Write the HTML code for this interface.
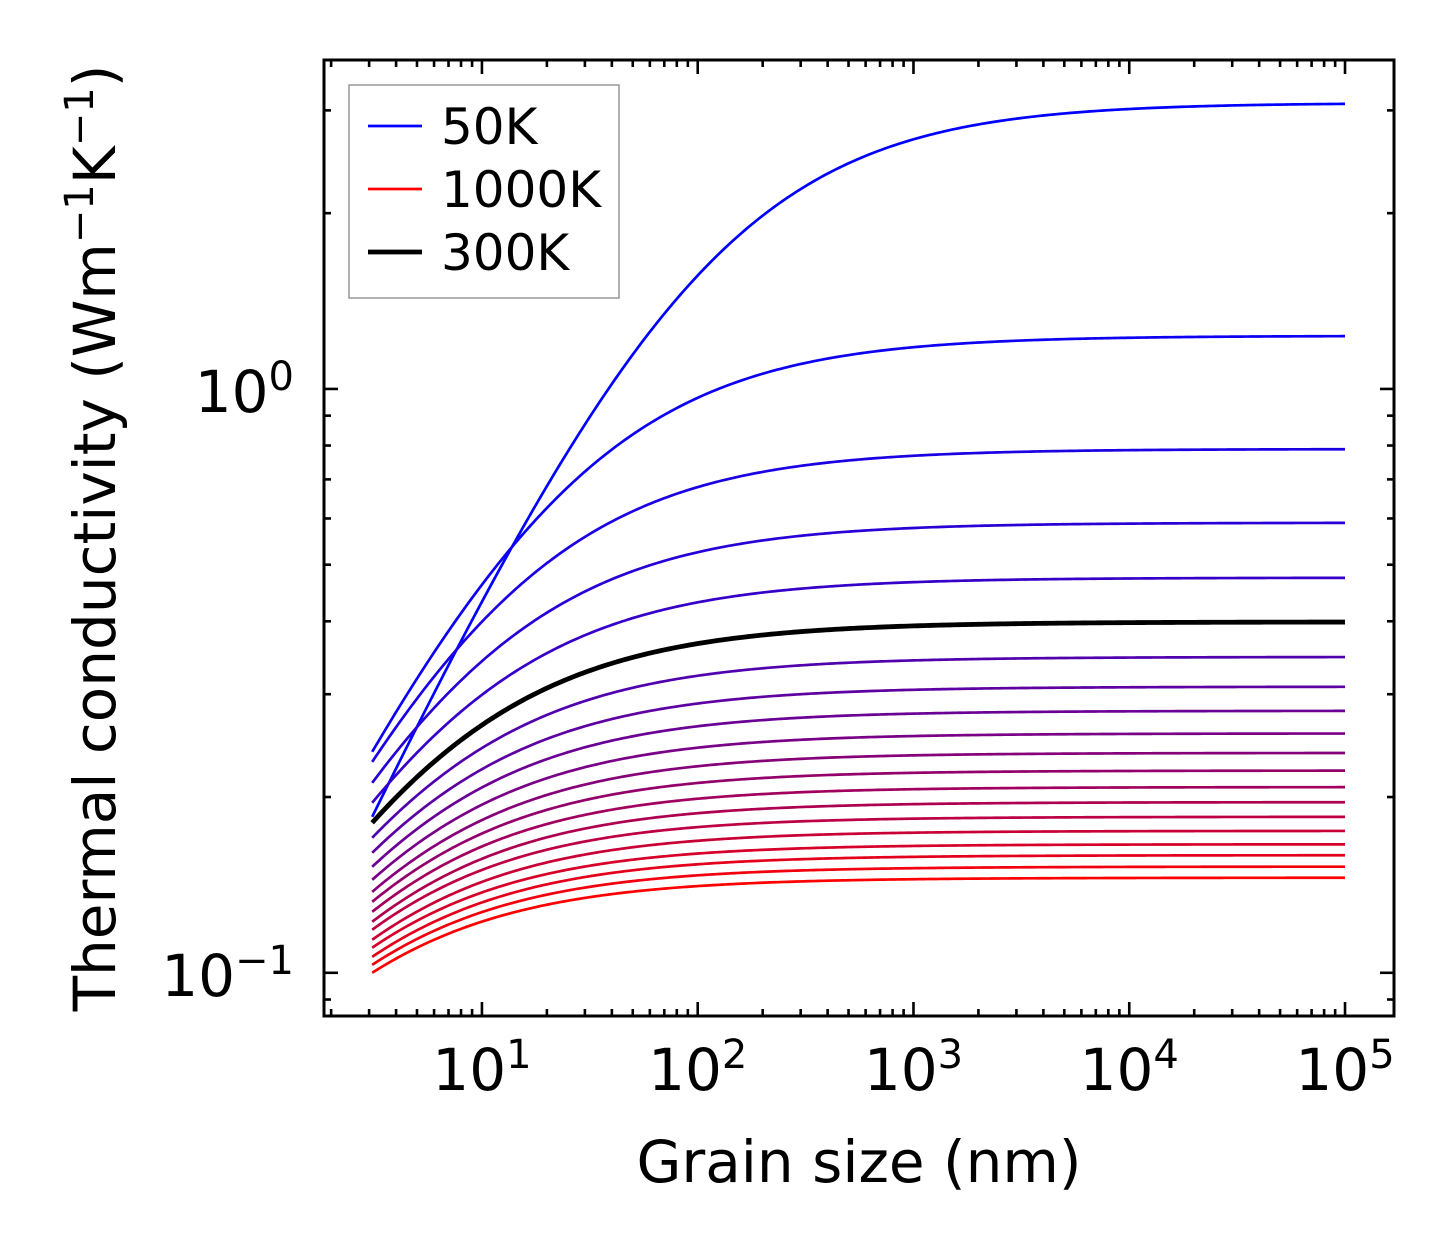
<!DOCTYPE html>
<html><head><meta charset="utf-8"><style>
html,body{margin:0;padding:0;background:#fff;}
svg text{font-family:"DejaVu Sans","Liberation Sans",sans-serif;fill:#000;}
</style></head><body>
<svg id="chart" width="1454" height="1254" xmlns="http://www.w3.org/2000/svg">
<g id="plot"></g>
</svg>
<script>
const temps = [50,100,150,200,250,300,350,400,450,500,550,600,650,700,750,800,850,900,950,1000];
const kBulk = [3.09,1.233,0.789,0.590,0.475,0.399,0.3475,0.309,0.281,0.257,0.238,0.222,0.208,0.196,0.185,0.175,0.166,0.159,0.152,0.1455];
const kSmall = [0.185,0.239,0.2298,0.2115,0.1955,0.1807,0.1703,0.1605,0.1519,0.1443,0.1376,0.1323,0.1272,0.1223,0.1185,0.1139,0.1104,0.1065,0.1032,0.1];
const shapeExp = [0.8,0.78,0.78,0.77,0.76,0.75,0.75,0.75,0.75,0.75,0.75,0.75,0.75,0.75,0.75,0.75,0.75,0.75,0.75,0.75];
const grainMin = 3.1, grainMax = 1e5;
const xTickLabels = ["1","2","3","4","5"];
const yTickExps = ["0","\u22121"];

const NS="http://www.w3.org/2000/svg";
const L=324,R=1394,T=60,B=1016;
const xLogMin=0.268, xLogMax=5.227;
const yLogMin=-1.074, yLogMax=0.5634;
const xs=v=>L+(Math.log10(v)-xLogMin)/(xLogMax-xLogMin)*(R-L);
const ys=v=>B-(Math.log10(v)-yLogMin)/(yLogMax-yLogMin)*(B-T);
const plot=document.getElementById('plot');
function mk(tag,attrs,parent){const e=document.createElementNS(NS,tag);for(const k in attrs)e.setAttribute(k,attrs[k]);(parent||plot).appendChild(e);return e;}

let blackPath=null;
temps.forEach((t,i)=>{
  const frac=i/(temps.length-1);
  const kinf=kBulk[i], a=shapeExp[i];
  const Bc=(kinf/kSmall[i]-1)*Math.pow(grainMin,a);
  let d="";
  for(let j=0;j<=300;j++){
    const lg=Math.log10(grainMin)+(Math.log10(grainMax)-Math.log10(grainMin))*j/300;
    const Lg=Math.pow(10,lg);
    const k=kinf/(1+Bc/Math.pow(Lg,a));
    d+=(j?"L":"M")+xs(Lg).toFixed(2)+","+ys(k).toFixed(2);
  }
  const isBlack=t===300;
  const col=isBlack?"#000":`rgb(${Math.round(frac*255)},0,${Math.round((1-frac)*255)})`;
  const p=mk('path',{d:d,fill:"none",stroke:col,"stroke-width":isBlack?4.8:2.7});
  
  
  if(isBlack)blackPath=p;
});
if(blackPath)plot.appendChild(blackPath);

const tg=mk('g',{stroke:"#000","stroke-width":2.6});


for(let e=0;e<=5;e++){for(let m=1;m<10;m++){const v=m*Math.pow(10,e);const x=xs(v);if(x<L+1||x>R-1)continue;const len=m===1?14:7;
  mk('line',{x1:x,x2:x,y1:B,y2:B-len},tg);mk('line',{x1:x,x2:x,y1:T,y2:T+len},tg);}}
for(let e=-2;e<=0;e++){for(let m=1;m<10;m++){const v=m*Math.pow(10,e);const y=ys(v);if(y<T+1||y>B-1)continue;const len=m===1?14:7;
  mk('line',{y1:y,y2:y,x1:L,x2:L+len},tg);mk('line',{y1:y,y2:y,x1:R,x2:R-len},tg);}}
const fr=mk('rect',{x:L,y:T,width:R-L,height:B-T,fill:"none",stroke:"#000","stroke-width":3});



xTickLabels.forEach(s=>{
  const x=xs(Math.pow(10,+s));
  const t=mk('text',{x:x,y:1090,"font-size":58,"text-anchor":"middle"});
  
  
  t.innerHTML='10<tspan dy="-22" font-size="40">'+s+'</tspan>';
});
yTickExps.forEach(s=>{
  const v=Math.pow(10,s==="0"?0:-1);
  const y=ys(v);
  const t=mk('text',{x:294,y:y+23,"font-size":58,"text-anchor":"end"});
  
  
  t.innerHTML='10<tspan dy="-22" font-size="40">'+s+'</tspan>';
});
const xl=mk('text',{x:859,y:1182,"font-size":58,"text-anchor":"middle"});


xl.textContent='Grain size (nm)';
const yl=mk('text',{x:0,y:0,"font-size":58,"text-anchor":"middle",transform:"translate(115,538) rotate(-90)"});


yl.innerHTML='Thermal conductivity (Wm<tspan dy="-22" font-size="40">\u22121</tspan><tspan dy="22">K</tspan><tspan dy="-22" font-size="40">\u22121</tspan><tspan dy="22">)</tspan>';

const lg=mk('g',{});


mk('rect',{x:349,y:85,width:270,height:213,fill:"#fff",stroke:"#999","stroke-width":1.5},lg);
const legendItems=[["50K","#00f",2.7,126],["1000K","#f00",2.7,189],["300K","#000",4.8,252]];
legendItems.forEach(([lab,c,w,y])=>{
  const e=mk('g',{},lg);
  
  
  mk('line',{x1:368,x2:422,y1:y,y2:y,stroke:c,"stroke-width":w},e);
  const t=mk('text',{x:441,y:y+18,"font-size":50},e);
  t.textContent=lab;
});
</script>
</body></html>
